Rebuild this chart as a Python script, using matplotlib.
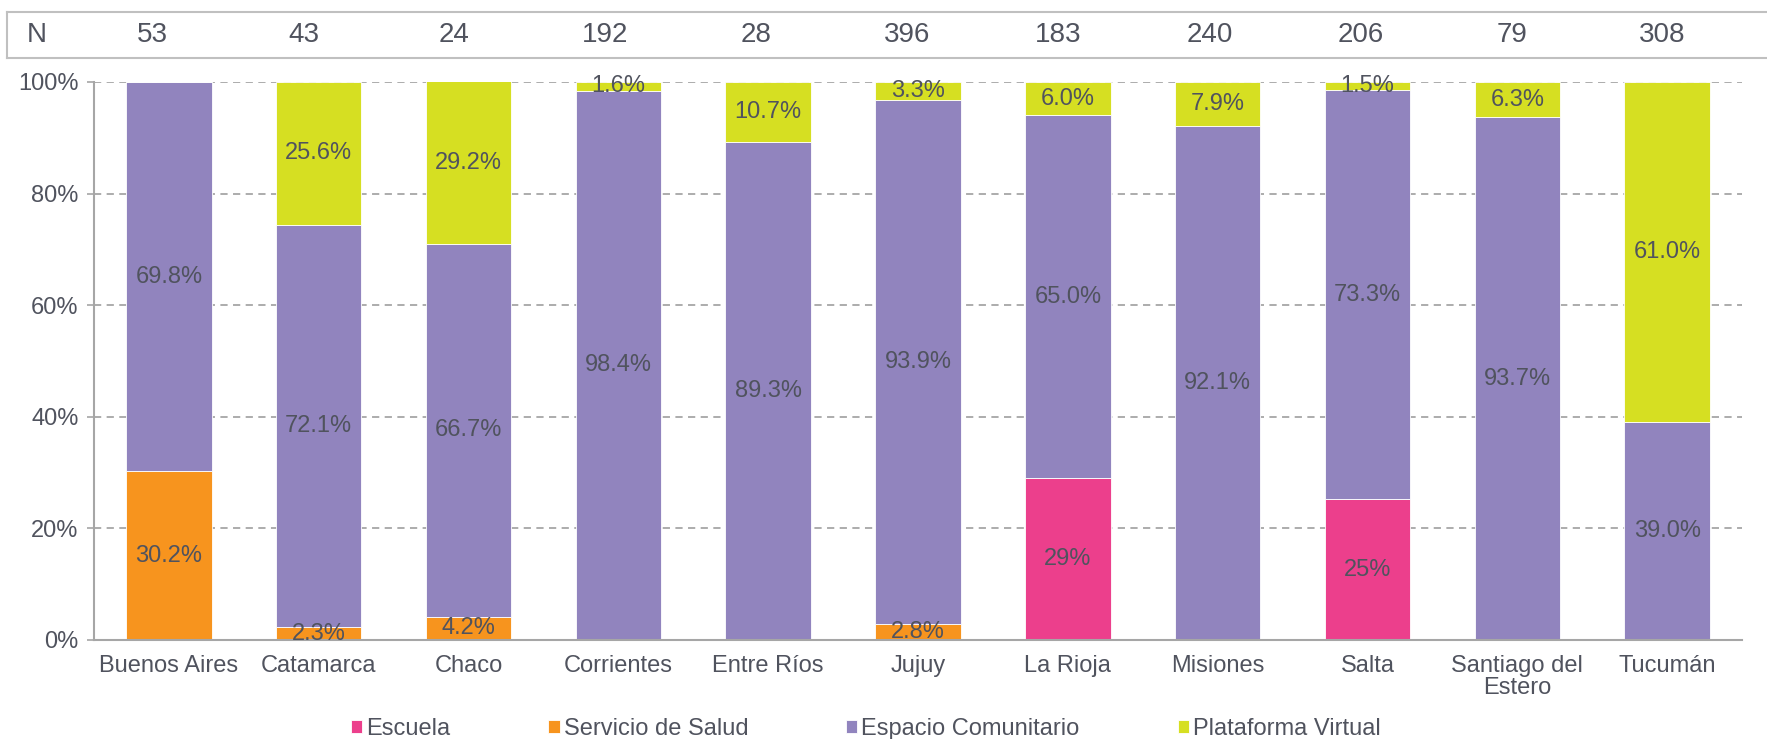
import numpy as np
import matplotlib.pyplot as plt
from matplotlib.transforms import blended_transform_factory

plt.rcParams['font.family'] = ['Liberation Sans', 'DejaVu Sans']

provincias = ['Buenos Aires', 'Catamarca', 'Chaco', 'Corrientes', 'Entre Ríos', 'Jujuy',
              'La Rioja', 'Misiones', 'Salta', 'Santiago del\nEstero', 'Tucumán']
n_casos = [53, 43, 24, 192, 28, 396, 183, 240, 206, 79, 308]

escuela = [0, 0, 0, 0, 0, 0, 29.0, 0, 25.2, 0, 0]
salud = [30.2, 2.3, 4.2, 0, 0, 2.8, 0, 0, 0, 0, 0]
comunitario = [69.8, 72.1, 66.7, 98.4, 89.3, 93.9, 65.0, 92.1, 73.3, 93.7, 39.0]
virtual = [0, 25.6, 29.2, 1.6, 10.7, 3.3, 6.0, 7.9, 1.5, 6.3, 61.0]

series = [('Escuela', escuela, '#EC3F8C', '{:.0f}%'),
          ('Servicio de Salud', salud, '#F7941E', '{:.1f}%'),
          ('Espacio Comunitario', comunitario, '#9184BE', '{:.1f}%'),
          ('Plataforma Virtual', virtual, '#D6DF22', '{:.1f}%')]

txt = '#50535E'
grey = '#A6A6A6'
fs = 17

W, H = 1767, 739
fig = plt.figure(figsize=(W / 100, H / 100), dpi=100)
ax = fig.add_axes([94 / W, 1 - 640 / H, (1742 - 94) / W, (640 - 82) / H])

x = np.arange(len(provincias))
bottom = np.zeros(len(provincias))
for name, vals, col, fmt in series:
    vals = np.array(vals)
    ax.bar(x, vals, 0.57, bottom=bottom, color=col, edgecolor='white',
           linewidth=0.6, label=name, zorder=2)
    for xi, b, v in zip(x, bottom, vals):
        if v > 0:
            ax.text(xi, b + v / 2, fmt.format(v), ha='center', va='center',
                    fontsize=fs, color=txt, zorder=3)
    bottom += vals

ax.set_xlim(-0.5, len(provincias) - 0.5)
ax.set_ylim(0, 100)
ax.set_yticks(np.arange(0, 101, 20))
ax.set_yticklabels([f'{v}%' for v in range(0, 101, 20)])
ax.set_xticks(x)
ax.set_xticklabels(provincias, linespacing=1.0)
ax.tick_params(axis='y', labelsize=fs, colors=txt, length=5, color=grey, pad=6, width=1.2)
ax.tick_params(axis='x', labelsize=fs, colors=txt, length=0, pad=11)
for lab in ax.get_yticklabels():
    lab.set_color(txt)
ax.yaxis.grid(True, linestyle=(0, (4, 3)), color=grey, linewidth=1.3, zorder=0)
ax.set_axisbelow(True)
for s in ['top', 'right']:
    ax.spines[s].set_visible(False)
for s in ['left', 'bottom']:
    ax.spines[s].set_color(grey)
    ax.spines[s].set_linewidth(1.5)

# fila N
box = fig.add_axes([7 / W, 1 - 58 / H, 1 - 7 / W + 0.01, 46 / H])
box.set_xticks([])
box.set_yticks([])
for s in box.spines.values():
    s.set_color('#C0C0C0')
    s.set_linewidth(1.5)
tr = blended_transform_factory(ax.transData, box.transAxes)
box.text(-0.88, 0.5, 'N', transform=tr, ha='center', va='center', fontsize=20, color=txt)
for i, n in enumerate(n_casos):
    box.text(i * 1.008 - 0.11, 0.5, str(n), transform=tr, ha='center', va='center',
             fontsize=20, color=txt)

leg = fig.legend(loc='center', bbox_to_anchor=(0.49, 0.014), ncol=4, frameon=False,
                 fontsize=fs, handlelength=0.47, handleheight=0.47, handletextpad=0.17,
                 columnspacing=4.15, labelcolor=txt)

fig.savefig('out.png', dpi=100)
